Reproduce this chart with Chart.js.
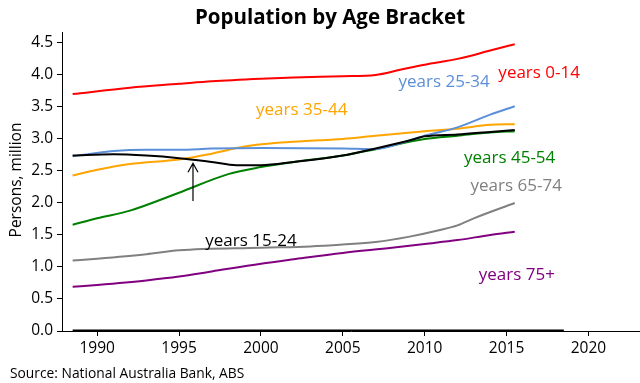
<!DOCTYPE html>
<html>
<head>
<meta charset="utf-8">
<script src="https://cdn.jsdelivr.net/npm/chart.js@4"></script>
<style>
  html, body { margin: 0; padding: 0; background: #fff; }
  #wrap { width: 640px; height: 383px; }
</style>
</head>
<body>
<div id="wrap"><canvas id="popChart" width="640" height="383"></canvas></div>
<script>
// values, persons in millions
const yr0_14 = [[1988.5,3.70],[1992,3.80],[1995,3.86],[1997,3.90],[2000,3.94],[2002,3.96],[2005,3.98],[2007,4.00],[2008.5,4.08],[2010,4.16],[2012,4.25],[2014,4.38],[2015.5,4.48]];
const yr15_24 = [[1988.5,2.74],[1991,2.76],[1993,2.74],[1995,2.70],[1997,2.64],[1998.5,2.59],[2000,2.59],[2002,2.64],[2005,2.74],[2007,2.85],[2009,2.97],[2010,3.04],[2012,3.07],[2014,3.11],[2015.5,3.14]];
const yr25_34 = [[1988.5,2.73],[1991,2.81],[1993,2.83],[1995,2.83],[1997,2.85],[2000,2.86],[2005,2.85],[2007,2.84],[2008.5,2.93],[2010,3.05],[2012,3.18],[2014,3.38],[2015.5,3.51]];
const yr35_44 = [[1988.5,2.43],[1990,2.52],[1992,2.61],[1995,2.68],[1997,2.77],[1999,2.88],[2001,2.94],[2003,2.97],[2005,3.00],[2007,3.05],[2010,3.12],[2012,3.16],[2014,3.22],[2015.5,3.23]];
const yr45_54 = [[1988.5,1.66],[1990,1.76],[1992,1.88],[1995,2.16],[1998,2.45],[2000,2.56],[2002,2.64],[2005,2.74],[2007,2.84],[2010,3.00],[2012,3.05],[2014,3.10],[2015.5,3.12]];
const yr65_74 = [[1988.5,1.10],[1990,1.13],[1993,1.20],[1995,1.26],[2000,1.30],[2003,1.32],[2005,1.35],[2007,1.39],[2009,1.47],[2011,1.58],[2012,1.65],[2013,1.76],[2015.5,2.00]];
const yr75p = [[1988.5,0.69],[1990,0.72],[1993,0.79],[1995,0.85],[1997,0.93],[2000,1.05],[2002,1.12],[2005,1.22],[2008,1.30],[2010,1.36],[2012,1.42],[2014,1.50],[2015.5,1.55]];
const zeroLine = [[1988.5,0],[2018.5,0]];

// in-plot labels: [text, year, value, colour]
const labels = [
  ["years 0-14", 2014.5, 4.02, "#ff0000"],
  ["years 25-34", 2008.4, 3.89, "#5b8fd9"],
  ["years 35-44", 1999.7, 3.45, "#ffa500"],
  ["years 45-54", 2012.4, 2.70, "#008000"],
  ["years 65-74", 2012.8, 2.27, "#808080"],
  ["years 15-24", 1996.6, 1.41, "#000000"],
  ["years 75+", 2013.3, 0.88, "#800080"]
];
const arrowFrom = [1995.85, 2.03];
const arrowTo = [1995.85, 2.62];

const FONT = "'Open Sans', 'Noto Sans', sans-serif";

function pts(arr) {
  return arr.map(p => ({ x: p[0], y: p[1] }));
}

function series(data, color, width) {
  return {
    data: pts(data),
    borderColor: color,
    borderWidth: width || 2,
    pointRadius: 0,
    fill: false,
    cubicInterpolationMode: 'monotone'
  };
}

const extras = {
  id: 'extras',
  afterDatasetsDraw(chart) {
    const ctx = chart.ctx;
    const xs = chart.scales.x, ys = chart.scales.y;
    ctx.save();
    ctx.font = "17px " + FONT;
    ctx.textBaseline = 'middle';
    ctx.textAlign = 'left';
    labels.forEach(l => {
      ctx.fillStyle = l[3];
      ctx.fillText(l[0], xs.getPixelForValue(l[1]), ys.getPixelForValue(l[2]));
    });
    // arrow
    const x0 = xs.getPixelForValue(arrowFrom[0]), y0 = ys.getPixelForValue(arrowFrom[1]);
    const x1 = xs.getPixelForValue(arrowTo[0]), y1 = ys.getPixelForValue(arrowTo[1]);
    ctx.strokeStyle = '#000';
    ctx.lineWidth = 1.2;
    ctx.beginPath();
    ctx.moveTo(x0, y0);
    ctx.lineTo(x1, y1);
    ctx.moveTo(x1 - 5, y1 + 9);
    ctx.lineTo(x1, y1);
    ctx.lineTo(x1 + 5, y1 + 9);
    ctx.stroke();
    ctx.restore();
  },
  afterDraw(chart) {
    const ctx = chart.ctx;
    ctx.save();
    ctx.fillStyle = '#000';
    ctx.font = "bold 20.5px " + FONT;
    ctx.textAlign = 'center';
    ctx.textBaseline = 'middle';
    ctx.fillText("Population by Age Bracket", 330, 18);
    ctx.font = "13.8px " + FONT;
    ctx.textAlign = 'left';
    ctx.fillText("Source: National Australia Bank, ABS", 10, 374);
    ctx.translate(17, 180);
    ctx.rotate(-Math.PI / 2);
    ctx.textAlign = 'center';
    ctx.font = "15.5px " + FONT;
    ctx.fillText("Persons, million", 0, 0);
    ctx.restore();
  }
};

new Chart(document.getElementById('popChart'), {
  type: 'line',
  data: {
    datasets: [
      series(yr0_14, '#ff0000'),
      series(yr15_24, '#000000'),
      series(yr25_34, '#5b8fd9'),
      series(yr35_44, '#ffa500'),
      series(yr45_54, '#008000'),
      series(yr65_74, '#808080'),
      series(yr75p, '#800080'),
      series(zeroLine, '#000000', 3)
    ]
  },
  options: {
    responsive: false,
    animation: false,
    layout: { padding: { top: 32, left: 0, right: 0, bottom: 0 } },
    plugins: {
      legend: { display: false },
      title: { display: false },
      tooltip: { enabled: false }
    },
    scales: {
      x: {
        type: 'linear',
        min: 1987.85,
        max: 2023.15,
        afterFit(scale) { scale.height = 52; },
        ticks: {
          stepSize: 5,
          includeBounds: false,
          maxRotation: 0,
          color: '#000',
          font: { size: 15.5, family: FONT },
          padding: 3,
          callback: v => String(v)
        },
        grid: { drawOnChartArea: false, drawTicks: true, tickLength: 5, color: '#000' },
        border: { display: true, color: '#000', width: 1 }
      },
      y: {
        min: 0,
        max: 4.67,
        afterFit(scale) { scale.width = 62; },
        ticks: {
          stepSize: 0.5,
          includeBounds: false,
          color: '#000',
          font: { size: 15.5, family: FONT },
          padding: 4,
          callback: v => v.toFixed(1)
        },
        grid: { drawOnChartArea: false, drawTicks: true, tickLength: 5, color: '#000' },
        border: { display: true, color: '#000', width: 1 }
      }
    }
  },
  plugins: [extras]
});
</script>
</body>
</html>
